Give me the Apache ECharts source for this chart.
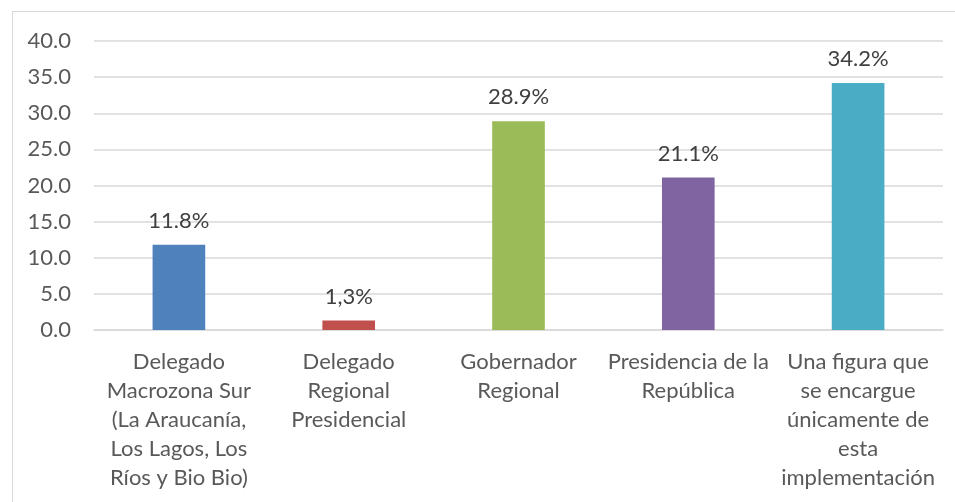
<!DOCTYPE html>
<html>
<head>
<meta charset="utf-8">
<script src="https://cdn.jsdelivr.net/npm/echarts@6/dist/echarts.min.js"></script>
<style>
  body { margin: 0; background: #ffffff; }
  #chart { position: absolute; left: 0; top: 0; width: 955px; height: 502px; }
  #frame {
    position: absolute; left: 12px; top: 11px; width: 960px; height: 520px;
    border: 1px solid #d9d9d9; box-sizing: border-box; pointer-events: none;
  }
</style>
</head>
<body>
<div id="chart"></div>
<div id="frame"></div>
<script>
// categorias del eje X
const categories = [
  "Delegado\nMacrozona Sur\n(La Araucanía,\nLos Lagos, Los\nRíos y Bio Bio)",
  "Delegado\nRegional\nPresidencial",
  "Gobernador\nRegional",
  "Presidencia de la\nRepública",
  "Una figura que\nse encargue\núnicamente de\nesta\nimplementación"
];
const values = [11.8, 1.3, 28.9, 21.1, 34.2];
const valueLabels = ["11.8%", "1,3%", "28.9%", "21.1%", "34.2%"];
const barColors = ["#4f81bd", "#c0504d", "#9bbb59", "#8064a2", "#4bacc6"];
const yTicks = [0, 5, 10, 15, 20, 25, 30, 35, 40];

const font = "Lato, 'Open Sans', sans-serif";
const chart = echarts.init(document.getElementById("chart"));

chart.setOption({
  animation: false,
  grid: { left: 94, right: 12, top: 41, bottom: 172 },
  xAxis: {
    type: "category",
    data: categories,
    axisTick: { show: false },
    axisLine: { lineStyle: { color: "#d9d9d9", width: 1.5 } },
    axisLabel: {
      color: "#595959",
      fontFamily: font,
      fontSize: 22,
      lineHeight: 29,
      margin: 17,
      interval: 0,
      align: "center"
    }
  },
  yAxis: {
    type: "value",
    min: yTicks[0],
    max: yTicks[yTicks.length - 1],
    interval: 5,
    axisLine: { show: false },
    axisTick: { show: false },
    splitLine: { lineStyle: { color: "#d9d9d9", width: 1.5 } },
    axisLabel: {
      color: "#595959",
      fontFamily: font,
      fontSize: 22,
      margin: 23,
      formatter: v => v.toFixed(1)
    }
  },
  series: [{
    type: "bar",
    barWidth: "31%",
    data: values.map((v, i) => ({ value: v, itemStyle: { color: barColors[i] } })),
    label: {
      show: true,
      position: "top",
      distance: 13,
      color: "#404040",
      fontFamily: font,
      fontSize: 22,
      formatter: p => valueLabels[p.dataIndex]
    }
  }]
});
</script>
</body>
</html>
